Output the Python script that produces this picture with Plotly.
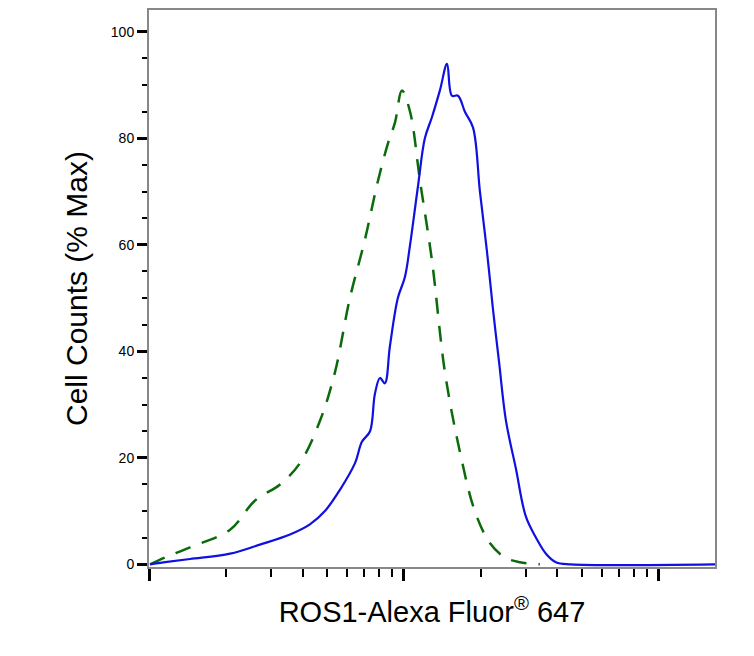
import plotly.graph_objects as go

# blue (antibody) histogram: log10 intensity, % max
blue_logx = [3.004,3.063,3.161,3.318,3.435,3.553,3.631,3.69,3.749,3.808,3.835,3.867,3.886,3.906,3.925,3.945,3.976,4.004,4.024,4.055,4.082,4.11,4.141,4.169,4.188,4.212,4.239,4.271,4.298,4.325,4.349,4.373,4.4,4.439,4.478,4.518,4.557,4.596,4.655,5.22]
blue_y = [0,0.4,1,2,3.7,5.6,7.5,10,14,19,23,25,32,35,34,41,50,54,60,71,80,84,89,94,88,88,85,82,70,59,48,38,27,18,9,5,2,0.4,0,0]
# green dashed (isotype control)
green_logx = [3.004,3.063,3.161,3.318,3.416,3.514,3.592,3.671,3.729,3.788,3.847,3.898,3.937,3.965,3.992,4.024,4.063,4.11,4.161,4.22,4.278,4.337,4.396,4.455,4.533]
green_y = [0,1.3,3.2,6.5,12,15,19,27,36,50,61,72,79,83,89,85,72,57,36,21,10,4,1.3,0.4,0]

fig = go.Figure()
fig.add_trace(go.Scatter(x=[10**v for v in green_logx], y=green_y, mode="lines",
                         line=dict(color="#0b6b0b", width=2.5, dash="16px,12px"), line_shape="spline"))
fig.add_trace(go.Scatter(x=[10**v for v in blue_logx], y=blue_y, mode="lines",
                         line=dict(color="#1010e0", width=2.2), line_shape="spline"))
fig.update_layout(
    width=746, height=648, showlegend=False, plot_bgcolor="white", paper_bgcolor="white",
    margin=dict(l=141, r=39, t=0, b=89),
    font=dict(family="Liberation Sans, Arial", color="black"),
)
fig.update_xaxes(type="log", range=[3, 5.22], showgrid=False, zeroline=False,
                 showline=True, linecolor="#888", linewidth=2, mirror=True,
                 ticks="outside", ticklen=12, tickwidth=3, tickcolor="black", dtick=1,
                 showticklabels=False,
                 minor=dict(ticks="outside", ticklen=8, tickwidth=2, tickcolor="black", dtick="D1"),
                 title=dict(text="ROS1-Alexa Fluor<sup>®</sup> 647", font=dict(size=29), standoff=22))
fig.update_yaxes(range=[-0.5, 104.1], showgrid=False, zeroline=False,
                 showline=True, linecolor="#888", linewidth=2, mirror=True,
                 ticks="outside", ticklen=10, tickwidth=3, tickcolor="black",
                 tickvals=[0,20,40,60,80,100], tickfont=dict(size=14),
                 minor=dict(ticks="outside", ticklen=5, tickwidth=2, tickcolor="black", dtick=5),
                 title=dict(text="Cell Counts (% Max)", font=dict(size=30), standoff=14))
fig.write_html("out.html")
